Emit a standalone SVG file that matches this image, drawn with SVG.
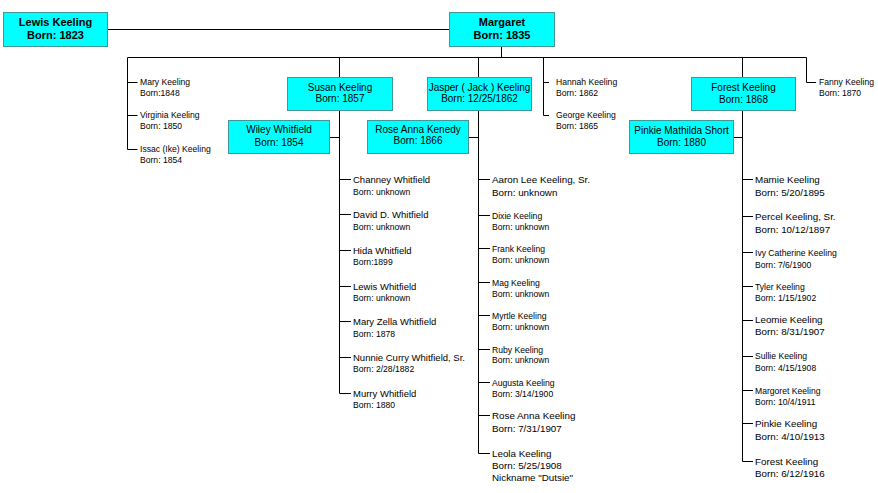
<svg xmlns="http://www.w3.org/2000/svg" width="878" height="493" viewBox="0 0 878 493">
<style>
.box{fill:#00FFFF;stroke:#3F9797;stroke-width:1}
.ln{fill:none;stroke:#000;stroke-width:1}
.bt{font-family:"Liberation Sans",Arial,sans-serif;font-size:11px;font-weight:bold;text-anchor:middle;fill:#000}
.nt{font-family:"Liberation Sans",Arial,sans-serif;font-size:10px;text-anchor:middle;fill:#000}
.st{font-family:"Liberation Sans",Arial,sans-serif;font-size:9.5px;fill:#000}
.sl{font-family:"Liberation Sans",Arial,sans-serif;font-size:9.8px;fill:#000}
.ss{font-family:"Liberation Sans",Arial,sans-serif;font-size:8.6px;fill:#000}
</style>
<rect width="878" height="493" fill="#fff"/>
<g id="connectors">
<path class="ln" d="M107.5 29.5H449.5 M501.5 46.5V57.5 M127.5 57.5H806.5"/>
<path class="ln" d="M127.5 57.5V149.5 M127.5 82.5H137.5 M127.5 115.5H137.5 M127.5 149.5H137.5"/>
<path class="ln" d="M339.5 57.5V77.5 M339.5 110.5V393.5 M329.5 137.5H339.5 M339.5 179.5H351 M339.5 214.5H351 M339.5 250.5H351 M339.5 286.5H351 M339.5 321.5H351 M339.5 357.5H351 M339.5 393.5H351"/>
<path class="ln" d="M478.5 57.5V77.5 M478.5 110.5V453.5 M468.5 137.5H478.5 M478.5 179.5H490 M478.5 215.5H490 M478.5 248.5H490 M478.5 282.5H490 M478.5 315.5H490 M478.5 349.5H490 M478.5 382.5H490 M478.5 415.5H490 M478.5 453.5H490"/>
<path class="ln" d="M543.5 57.5V115.5 M543.5 82.5H549 M543.5 115.5H549"/>
<path class="ln" d="M742.5 57.5V77.5 M742.5 110.5V461.5 M733.5 137.5H742.5 M742.5 179.5H753 M742.5 216.5H753 M742.5 252.5H753 M742.5 286.5H753 M742.5 320.5H753 M742.5 356.5H753 M742.5 390.5H753 M742.5 423.5H753 M742.5 461.5H753"/>
<path class="ln" d="M806.5 57.5V82.5H816"/>
</g>
<g id="lewis"><rect class="box" x="3.5" y="12.5" width="104" height="34"/><text class="bt" x="55.5" y="26">Lewis Keeling</text><text class="bt" x="55.5" y="39">Born: 1823</text></g>
<g id="margaret"><rect class="box" x="449.5" y="12.5" width="105" height="34"/><text class="bt" x="502" y="26">Margaret</text><text class="bt" x="502" y="39">Born: 1835</text></g>
<g id="susan"><rect class="box" x="287.5" y="77.5" width="105" height="33"/><text class="nt" x="340" y="91">Susan Keeling</text><text class="nt" x="340" y="102">Born: 1857</text></g>
<g id="jasper"><rect class="box" x="427.5" y="77.5" width="104" height="33"/><text class="nt" x="479.5" y="91">Jasper ( Jack ) Keeling</text><text class="nt" x="479.5" y="102">Born: 12/25/1862</text></g>
<g id="forest"><rect class="box" x="691.5" y="77.5" width="104" height="33"/><text class="nt" x="743.5" y="90.5">Forest Keeling</text><text class="nt" x="743.5" y="102.5">Born: 1868</text></g>
<g id="wiley"><rect class="box" x="228.5" y="120.5" width="101" height="33"/><text class="nt" x="279" y="133">Wiley Whitfield</text><text class="nt" x="279" y="146">Born: 1854</text></g>
<g id="roseannakenedy"><rect class="box" x="367.5" y="120.5" width="101" height="33"/><text class="nt" x="418" y="133">Rose Anna Kenedy</text><text class="nt" x="418" y="144">Born: 1866</text></g>
<g id="pinkieshort"><rect class="box" x="629.5" y="120.5" width="104" height="33"/><text class="nt" x="681.5" y="133.5">Pinkie Mathilda Short</text><text class="nt" x="681.5" y="146">Born: 1880</text></g>
<g id="mary"><text class="ss" x="140" y="85">Mary Keeling</text><text class="ss" x="140" y="96">Born:1848</text></g>
<g id="virginia"><text class="ss" x="140" y="118">Virginia Keeling</text><text class="ss" x="140" y="129">Born: 1850</text></g>
<g id="issac"><text class="ss" x="140" y="151.5">Issac (Ike) Keeling</text><text class="ss" x="140" y="162.5">Born: 1854</text></g>
<g id="hannah"><text class="ss" x="556" y="85">Hannah Keeling</text><text class="ss" x="556" y="96">Born: 1862</text></g>
<g id="george"><text class="ss" x="556" y="118">George Keeling</text><text class="ss" x="556" y="129">Born: 1865</text></g>
<g id="fanny"><text class="ss" x="819" y="85">Fanny Keeling</text><text class="ss" x="819" y="96">Born: 1870</text></g>
<g id="channey"><text class="st" x="353" y="183">Channey Whitfield</text><text class="ss" x="353" y="194.5">Born: unknown</text></g>
<g id="david"><text class="st" x="353" y="218">David D. Whitfield</text><text class="ss" x="353" y="229.5">Born: unknown</text></g>
<g id="hida"><text class="st" x="353" y="253.5">Hida Whitfield</text><text class="ss" x="353" y="265">Born:1899</text></g>
<g id="lewisw"><text class="st" x="353" y="289.5">Lewis Whitfield</text><text class="ss" x="353" y="301">Born: unknown</text></g>
<g id="maryzella"><text class="st" x="353" y="325">Mary Zella Whitfield</text><text class="ss" x="353" y="336.5">Born: 1878</text></g>
<g id="nunnie"><text class="st" x="353" y="360.5">Nunnie Curry Whitfield, Sr.</text><text class="ss" x="353" y="372">Born: 2/28/1882</text></g>
<g id="murry"><text class="st" x="353" y="396.5">Murry Whitfield</text><text class="ss" x="353" y="408">Born: 1880</text></g>
<g id="aaron"><text class="sl" x="492" y="182.5">Aaron Lee Keeling, Sr.</text><text class="sl" x="492" y="196">Born: unknown</text></g>
<g id="dixie"><text class="ss" x="492" y="218.5">Dixie Keeling</text><text class="ss" x="492" y="229.5">Born: unknown</text></g>
<g id="frank"><text class="ss" x="492" y="251.5">Frank Keeling</text><text class="ss" x="492" y="262.5">Born: unknown</text></g>
<g id="mag"><text class="ss" x="492" y="285.5">Mag Keeling</text><text class="ss" x="492" y="296.5">Born: unknown</text></g>
<g id="myrtle"><text class="ss" x="492" y="318.5">Myrtle Keeling</text><text class="ss" x="492" y="329.5">Born: unknown</text></g>
<g id="ruby"><text class="ss" x="492" y="352.5">Ruby Keeling</text><text class="ss" x="492" y="363">Born: unknown</text></g>
<g id="augusta"><text class="ss" x="492" y="385.5">Augusta Keeling</text><text class="ss" x="492" y="396.5">Born: 3/14/1900</text></g>
<g id="roseanna"><text class="sl" x="492" y="418.5">Rose Anna Keeling</text><text class="sl" x="492" y="432">Born: 7/31/1907</text></g>
<g id="leola"><text class="sl" x="492" y="456.5">Leola Keeling</text><text class="sl" x="492" y="469">Born: 5/25/1908</text><text class="sl" x="492" y="481">Nickname "Dutsie"</text></g>
<g id="mamie"><text class="sl" x="755" y="182.5">Mamie Keeling</text><text class="sl" x="755" y="195.5">Born: 5/20/1895</text></g>
<g id="percel"><text class="sl" x="755" y="219.5">Percel Keeling, Sr.</text><text class="sl" x="755" y="232.5">Born: 10/12/1897</text></g>
<g id="ivy"><text class="ss" x="755" y="255.5">Ivy Catherine Keeling</text><text class="ss" x="755" y="267.5">Born: 7/6/1900</text></g>
<g id="tyler"><text class="ss" x="755" y="289.5">Tyler Keeling</text><text class="ss" x="755" y="301">Born: 1/15/1902</text></g>
<g id="leomie"><text class="sl" x="755" y="323">Leomie Keeling</text><text class="sl" x="755" y="335">Born: 8/31/1907</text></g>
<g id="sullie"><text class="ss" x="755" y="359">Sullie Keeling</text><text class="ss" x="755" y="371">Born: 4/15/1908</text></g>
<g id="margoret"><text class="ss" x="755" y="393.5">Margoret Keeling</text><text class="ss" x="755" y="405">Born: 10/4/1911</text></g>
<g id="pinkie"><text class="sl" x="755" y="426.5">Pinkie Keeling</text><text class="sl" x="755" y="440">Born: 4/10/1913</text></g>
<g id="forestjr"><text class="sl" x="755" y="464.5">Forest Keeling</text><text class="sl" x="755" y="477">Born: 6/12/1916</text></g>
</svg>
